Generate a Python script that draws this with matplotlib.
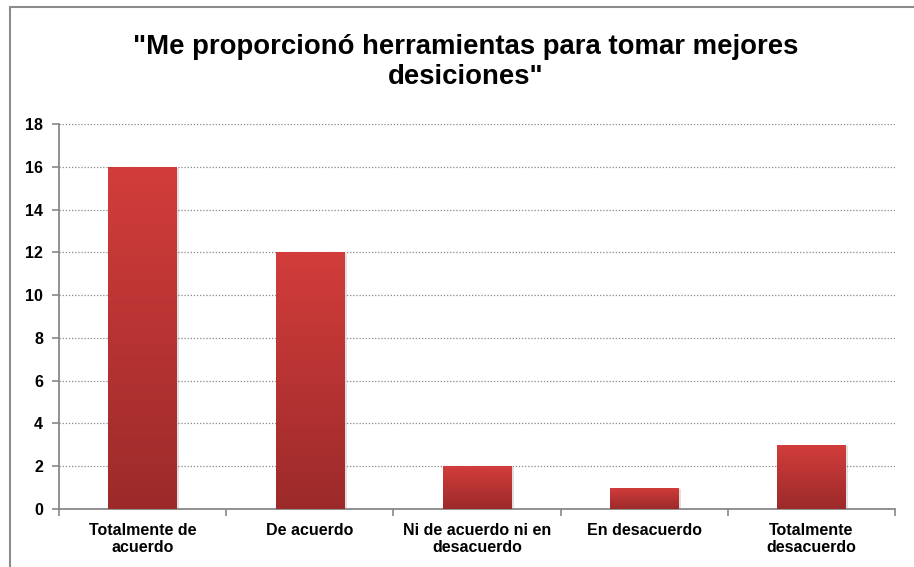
import numpy as np
import matplotlib
matplotlib.use("Agg")
import matplotlib.pyplot as plt
from matplotlib.colors import LinearSegmentedColormap
from matplotlib.patches import Rectangle

categories = ["Totalmente de\nacuerdo", "De acuerdo", "Ni de acuerdo ni en\ndesacuerdo",
              "En desacuerdo", "Totalmente\ndesacuerdo"]
values = [16, 12, 2, 1, 3]
title = "\"Me proporcionó herramientas para tomar mejores\ndesiciones\""

plt.rcParams['font.family'] = ['Liberation Sans', 'DejaVu Sans']

fig = plt.figure(figsize=(9.14, 5.67), dpi=100)
ax = fig.add_axes([59/914, 1 - 509/567, (895-59)/914, (509-124)/567])

x = np.arange(len(values))
bars = ax.bar(x, values, width=0.41, color="#c13636", zorder=3)

# vertical gradient inside each bar
cmap = LinearSegmentedColormap.from_list("red", ["#9c2a2a", "#d23d3b"])
grad = np.linspace(0, 1, 256).reshape(-1, 1)
for b in bars:
    bx, by = b.get_x(), b.get_y()
    w, h = b.get_width(), b.get_height()
    # soft shadow
    ax.add_patch(Rectangle((bx + 0.015, by), w, h - 0.05, color="#000000", alpha=0.12,
                           zorder=2, linewidth=0))
    im = ax.imshow(grad, cmap=cmap, aspect="auto", extent=(bx, bx + w, by, by + h),
                   origin="lower", zorder=4)
    im.set_clip_path(b)

ax.set_xlim(-0.5, len(values) - 0.5)
ax.set_ylim(0, 18)
ax.set_yticks(range(0, 19, 2))
ax.set_yticklabels([str(v) for v in range(0, 19, 2)], fontsize=11.5, fontweight="bold")
ax.set_xticks(x)
ax.set_xticklabels(categories, fontsize=11.5, fontweight="bold", linespacing=1.15)
ax.tick_params(axis="x", length=0, pad=10)
ax.set_xticks(np.arange(-0.5, len(values)), minor=True)
ax.tick_params(axis="x", which="minor", length=5, color="#888888", width=1.2)
ax.tick_params(axis="y", length=5, color="#888888", width=1.2, pad=6.5)

ax.grid(axis="y", linestyle=(0, (1, 1.5)), color="#888888", linewidth=0.9, zorder=0)
for s in ["top", "right"]:
    ax.spines[s].set_visible(False)
for s in ["left", "bottom"]:
    ax.spines[s].set_color("#888888")
    ax.spines[s].set_linewidth(1.3)

fig.text(466/914, 1 - 62/567, title, ha="center", va="center", fontsize=19.8,
         fontweight="bold", linespacing=1.2)

# outer chart border
fig.patches.append(Rectangle((10/914, -0.05), 1.05, 1 - 7/567 + 0.05, transform=fig.transFigure,
                             fill=False, edgecolor="#8c8c8c", linewidth=1.5))

fig.savefig("out.png", dpi=100)
